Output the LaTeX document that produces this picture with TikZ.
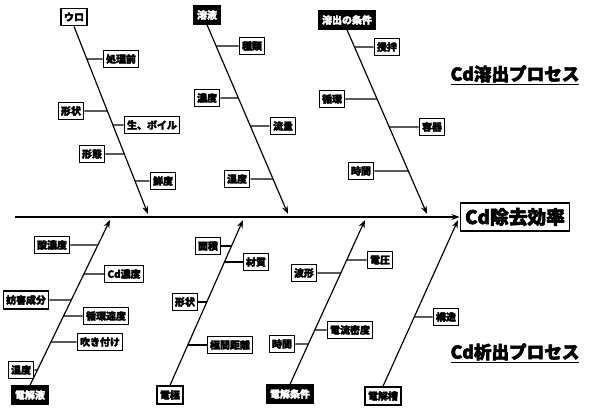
\documentclass[tikz,border=0pt]{standalone}
\usepackage{fontspec}
\setmainfont{Noto Sans CJK JP}[FakeBold=3]
\usetikzlibrary{arrows.meta,positioning}

\begin{document}
\begin{tikzpicture}[
  x=0.03cm, y=-0.03cm,
  item/.style={
    draw,
    line width=1pt,
    inner xsep=2.5pt,
    inner ysep=3.5pt,
    font=\bfseries\fontsize{8.5}{9}\selectfont
  },
  head/.style={item,line width=1.5pt},
  headdark/.style={head,fill=black,text=white},
  bone/.style={line width=1pt},
  spine/.style={-{Stealth[length=2.4mm,width=1.8mm]},line width=1pt},
  title/.style={font=\bfseries\fontsize{15}{17}\selectfont}
]
  \useasboundingbox (0,0) rectangle (590,411);

  % effect and main line
  \node[draw,line width=1.5pt,inner sep=4pt,
        font=\bfseries\fontsize{16}{18}\selectfont] (effect) at (515,217)
    {Cd除去効率};
  \coordinate (tail) at (15,217);
  \draw[spine] (tail) -- (effect.west);

  % process titles
  \node[title] (leach) at (515,75) {\underline{Cd溶出プロセス}};
  \node[title] (deposit) at (515,353) {\underline{Cd析出プロセス}};

  % heads of the bones
  \node[head] (uro) at (74,17) {ウロ};
  \node[headdark] (yoeki) at (207,15) {溶液};
  \node[headdark] (jouken) at (347,20) {溶出の条件};
  \node[headdark] (eki) at (30,395) {電解液};
  \node[head] (kyoku) at (170,395) {電極};
  \node[headdark] (cond) at (290,394) {電解条件};
  \node[head] (sou) at (383,396) {電解槽};

  % arrow tips on the main line
  \coordinate (tu) at (148,214);
  \coordinate (ty) at (288,214);
  \coordinate (tj) at (427,214);
  \coordinate (te) at (110,220);
  \coordinate (tk) at (243,220);
  \coordinate (tc) at (365,220);
  \coordinate (ts) at (458,220);

  \draw[spine] (uro.south) -- (tu);
  \draw[spine] (yoeki.south) -- (ty);
  \draw[spine] (jouken.south) -- (tj);
  \draw[spine] (eki.north) -- (te);
  \draw[spine] (kyoku.north) -- (tk);
  \draw[spine] (cond.north) -- (tc);
  \draw[spine] (sou.north) -- (ts);

  % causes: ウロ
  \node[item] (u1) at (121,59) {処理前};
  \node[item] (u2) at (71,111) {形状};
  \node[item] (u3) at (152,125) {生、ボイル};
  \node[item] (u4) at (92,154) {形態};
  \node[item] (u5) at (163,181) {鮮度};
  % causes: 溶液
  \node[item] (y1) at (252,46) {種類};
  \node[item] (y2) at (207,98) {濃度};
  \node[item] (y3) at (283,126) {流量};
  \node[item] (y4) at (237,179) {温度};
  % causes: 溶出の条件
  \node[item] (j1) at (387,47) {攪拌};
  \node[item] (j2) at (332,99) {循環};
  \node[item] (j3) at (432,127) {容器};
  \node[item] (j4) at (361,171) {時間};
  % causes: 電解液
  \node[item] (e1) at (52,245) {酸濃度};
  \node[item] (e2) at (124,274) {Cd濃度};
  \node[item] (e3) at (26,300) {妨害成分};
  \node[item] (e4) at (106,316) {循環速度};
  \node[item] (e5) at (100,342) {吹き付け};
  \node[item] (e6) at (21,370) {温度};
  % causes: 電極
  \node[item] (k1) at (208,246) {面積};
  \node[item] (k2) at (256,262) {材質};
  \node[item] (k3) at (185,302) {形状};
  \node[item] (k4) at (230,345) {極間距離};
  % causes: 電解条件
  \node[item] (c1) at (304,273) {波形};
  \node[item] (c2) at (380,260) {電圧};
  \node[item] (c3) at (350,330) {電流密度};
  \node[item] (c4) at (282,344) {時間};
  % causes: 電解槽
  \node[item] (s1) at (446,317) {構造};

  % small bones
  \foreach \b/\a/\h/\t in {
      u1/west/uro.south/tu, u2/east/uro.south/tu, u3/west/uro.south/tu,
      u4/east/uro.south/tu, u5/west/uro.south/tu,
      y1/west/yoeki.south/ty, y2/east/yoeki.south/ty,
      y3/west/yoeki.south/ty, y4/east/yoeki.south/ty,
      j1/west/jouken.south/tj, j2/east/jouken.south/tj,
      j3/west/jouken.south/tj, j4/east/jouken.south/tj,
      e1/east/eki.north/te, e2/west/eki.north/te, e3/east/eki.north/te,
      e4/west/eki.north/te, e5/west/eki.north/te, e6/east/eki.north/te,
      k1/east/kyoku.north/tk, k2/west/kyoku.north/tk,
      k3/east/kyoku.north/tk, k4/west/kyoku.north/tk,
      c1/east/cond.north/tc, c2/west/cond.north/tc,
      c3/west/cond.north/tc, c4/east/cond.north/tc,
      s1/west/sou.north/ts}
    \draw[bone] (\b.\a) -- (intersection of \b.west--\b.east and \h--\t);
\end{tikzpicture}
\end{document}
